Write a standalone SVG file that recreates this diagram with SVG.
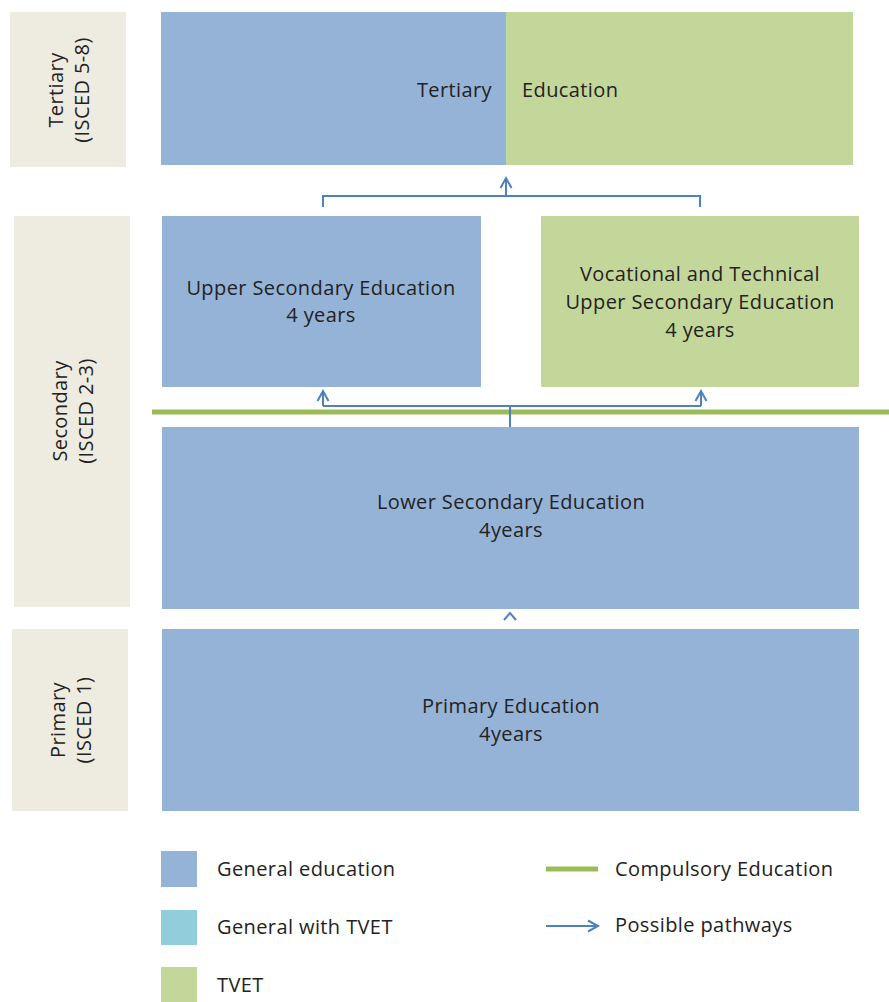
<svg xmlns="http://www.w3.org/2000/svg" width="889" height="1002" viewBox="0 0 889 1002">
<style>
.lvl{fill:#EEECE1}
.gen{fill:#95B3D7}
.tv{fill:#C4D79B}
.gt{fill:#92CDDC}
text{font-family:"Open Sans","Noto Sans","DejaVu Sans",sans-serif;font-size:20px;letter-spacing:0.4px;fill:#222}
.c{text-anchor:middle}
.con{fill:none;stroke:#4F81BD;stroke-width:2}
</style>
<defs>
<marker id="ah" markerWidth="14" markerHeight="14" refX="11" refY="7" orient="auto" markerUnits="userSpaceOnUse">
<path d="M1,1.5 L11,7 L1,12.5" fill="none" stroke="#4F81BD" stroke-width="2"/>
</marker>
</defs>
<rect width="889" height="1002" fill="#fff"/>
<g id="lvl-tertiary"><rect class="lvl" x="10" y="12" width="116" height="155"/>
<text class="c" transform="translate(68,90) rotate(-90)"><tspan x="0" y="-5">Tertiary</tspan><tspan x="0" y="21">(ISCED 5-8)</tspan></text></g>
<g id="lvl-secondary"><rect class="lvl" x="14" y="216" width="116" height="391"/>
<text class="c" transform="translate(72,411) rotate(-90)"><tspan x="0" y="-5">Secondary</tspan><tspan x="0" y="21">(ISCED 2-3)</tspan></text></g>
<g id="lvl-primary"><rect class="lvl" x="12" y="629" width="116" height="182"/>
<text class="c" transform="translate(70,720) rotate(-90)"><tspan x="0" y="-5">Primary</tspan><tspan x="0" y="21">(ISCED 1)</tspan></text></g>
<g id="tertiary"><rect class="gen" x="161" y="12" width="345" height="153"/><rect class="tv" x="506" y="12" width="347" height="153"/>
<text x="492" y="97" text-anchor="end">Tertiary</text><text x="522" y="97">Education</text></g>
<g id="upper-sec"><rect class="gen" x="162" y="216" width="319" height="171"/>
<text class="c" x="321" y="295">Upper Secondary Education</text><text class="c" x="321" y="322">4 years</text></g>
<g id="voc-sec"><rect class="tv" x="541" y="216" width="318" height="171"/>
<text class="c" x="700" y="281">Vocational and Technical</text><text class="c" x="700" y="309">Upper Secondary Education</text><text class="c" x="700" y="337">4 years</text></g>
<g id="compulsory"><line x1="152" y1="412" x2="889" y2="412" stroke="#9BBB59" stroke-width="5"/></g>
<g id="lower-sec"><rect class="gen" x="162" y="427" width="697" height="182"/>
<text class="c" x="511" y="509">Lower Secondary Education</text><text class="c" x="511" y="537">4years</text></g>
<g id="primary"><rect class="gen" x="162" y="629" width="697" height="182"/>
<text class="c" x="511" y="713">Primary Education</text><text class="c" x="511" y="741">4years</text></g>
<g id="connectors">
<path class="con" d="M323,207 V196 H700 V207"/>
<path class="con" d="M506,196 V178" marker-end="url(#ah)"/>
<path class="con" d="M510,427 V406"/>
<path class="con" d="M323,406 H701"/>
<path class="con" d="M323,406 V391" marker-end="url(#ah)"/>
<path class="con" d="M701,406 V391" marker-end="url(#ah)"/>
<path d="M504,620 L510,613 L516,620" fill="none" stroke="#4F81BD" stroke-width="2"/>
</g>
<g id="legend">
<rect class="gen" x="161" y="851" width="36" height="36"/><text x="217" y="876">General education</text>
<rect class="gt" x="161" y="910" width="36" height="35"/><text x="217" y="934">General with TVET</text>
<rect class="tv" x="161" y="967" width="36" height="35"/><text x="217" y="992">TVET</text>
<line x1="546" y1="869" x2="598" y2="869" stroke="#9BBB59" stroke-width="5"/><text x="615" y="876">Compulsory Education</text>
<path class="con" d="M546,926 H598" marker-end="url(#ah)"/><text x="615" y="932">Possible pathways</text>
</g>
</svg>
